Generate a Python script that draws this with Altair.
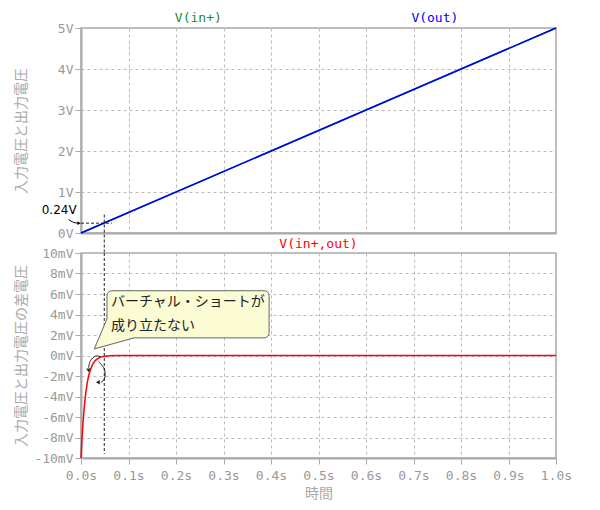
import altair as alt
import pandas as pd

# top panel: input and output ramps (V)
t_ramp = [0.0, 1.0]
v_in = [0.0, 5.0]
v_out = [0.0, 5.0]

# bottom panel: V(in+,out) in mV
t_diff = [0.0, 0.002, 0.004, 0.006, 0.008, 0.010, 0.013, 0.016, 0.020, 0.025,
          0.030, 0.035, 0.040, 0.045, 0.050, 0.060, 0.080, 0.100, 1.0]
v_diff = [-10.0, -8.2, -6.7, -5.5, -4.5, -3.7, -2.7, -2.0, -1.35, -0.82,
          -0.50, -0.30, -0.18, -0.11, -0.07, -0.03, -0.01, 0.0, 0.0]

x_ticks = [0.0, 0.1, 0.2, 0.3, 0.4, 0.5, 0.6, 0.7, 0.8, 0.9, 1.0]
top_ticks = [0, 1, 2, 3, 4, 5]
bot_ticks = [-10, -8, -6, -4, -2, 0, 2, 4, 6, 8, 10]

series_names = ["V(in+)", "V(out)", "V(in+,out)"]
series_colors = ["#1f8a1f", "#0000ff", "#ff0000"]

# annotation: 0.24V at about 0.049s
v_mark = 0.24
t_mark = 0.049
callout_lines = ["バーチャル・ショートが", "成り立たない"]

mono = "DejaVu Sans Mono"
cjk = "Noto Sans CJK JP"
W, H = 475, 205

x_top = alt.X("t:Q", scale=alt.Scale(domain=[0, 1], nice=False),
              axis=alt.Axis(values=x_ticks, labels=False, ticks=False, title=None))
y_top = alt.Y("v:Q", scale=alt.Scale(domain=[0, 5], nice=False),
              axis=alt.Axis(values=top_ticks, labelExpr="datum.value + 'V'",
                            title="入力電圧と出力電圧", titleX=-60))
x_bot = alt.X("t:Q", scale=alt.Scale(domain=[0, 1], nice=False),
              axis=alt.Axis(values=x_ticks, labelExpr="format(datum.value, '.1f') + 's'",
                            title="時間"))
y_bot = alt.Y("v:Q", scale=alt.Scale(domain=[-10, 10], nice=False),
              axis=alt.Axis(values=bot_ticks, labelExpr="datum.value + 'mV'",
                            title="入力電圧と出力電圧の差電圧", titleX=-60))

ramp_in = pd.DataFrame({"t": t_ramp, "v": v_in})
ramp_out = pd.DataFrame({"t": t_ramp, "v": v_out})

line_in = alt.Chart(ramp_in).mark_line(color=series_colors[0], strokeWidth=1.5).encode(x=x_top, y=y_top)
line_out = alt.Chart(ramp_out).mark_line(color=series_colors[1], strokeWidth=1.5).encode(x=x_top, y=y_top)

top_labels = pd.DataFrame({"t": [0.247, 0.745], "v": [5.24, 5.24],
                           "name": series_names[:2], "c": series_colors[:2]})
top_label_mark = alt.Chart(top_labels).mark_text(
    font=mono, fontSize=13, baseline="middle", clip=False
).encode(x=x_top, y=y_top, text="name:N", color=alt.Color("c:N", scale=None))

hdot = alt.Chart(pd.DataFrame({"t": [0.0], "t2": [0.065], "v": [v_mark]})).mark_rule(
    color="#222", strokeDash=[3, 2], strokeWidth=1, clip=False
).encode(x=x_top, x2="t2:Q", y=y_top)
vdot_top = alt.Chart(pd.DataFrame({"t": [t_mark], "v": [0.45], "v2": [-0.5]})).mark_rule(
    color="#222", strokeDash=[3, 2], strokeWidth=1, clip=False
).encode(x=x_top, y=y_top, y2="v2:Q")

mark_text = alt.Chart(pd.DataFrame({"t": [-0.046], "v": [0.55], "s": ["0.24V"]})).mark_text(
    font="DejaVu Sans", fontSize=12, color="#000", clip=False
).encode(x=x_top, y=y_top, text="s:N")
mark_arrow = alt.Chart(pd.DataFrame({"t": [-0.026, -0.016, -0.006], "v": [0.33, 0.26, 0.24],
                                     "o": [0, 1, 2]})).mark_line(
    color="#000", strokeWidth=1, interpolate="monotone", clip=False
).encode(x=x_top, y=y_top, order="o:Q")
mark_head = alt.Chart(pd.DataFrame({"t": [-0.004], "v": [0.24]})).mark_point(
    shape="triangle-right", size=14, filled=True, color="#000", opacity=1, clip=False
).encode(x=x_top, y=y_top)

top = alt.layer(line_in, line_out, top_label_mark, hdot, vdot_top,
                mark_text, mark_arrow, mark_head).properties(width=W, height=H)

# bottom panel
diff = pd.DataFrame({"t": t_diff, "v": v_diff})
diff_line = alt.Chart(diff).mark_line(color=series_colors[2], strokeWidth=1.5).encode(x=x_bot, y=y_bot)

red_label = alt.Chart(pd.DataFrame({"t": [0.5], "v": [10.9], "s": [series_names[2]]})).mark_text(
    font=mono, fontSize=13, color=series_colors[2], baseline="middle", clip=False
).encode(x=x_bot, y=y_bot, text="s:N")

vdot_bot = alt.Chart(pd.DataFrame({"t": [t_mark], "v": [10.0], "v2": [-9.6]})).mark_rule(
    color="#222", strokeDash=[3, 2], strokeWidth=1
).encode(x=x_bot, y=y_bot, y2="v2:Q")

box = alt.Chart(pd.DataFrame({"t": [0.0547], "t2": [0.396], "v": [6.32], "v2": [1.72]})).mark_rect(
    fill="#fbfbd4", stroke="#666", strokeWidth=1, cornerRadius=5
).encode(x=x_bot, x2="t2:Q", y=y_bot, y2="v2:Q")
tail_fill = alt.Chart(pd.DataFrame({"t": [0.028, 0.0547, 0.1116],
                                    "v": [0.64, 3.58, 3.58],
                                    "v2": [0.64, 0.985, 1.72]})).mark_area(
    color="#fbfbd4", opacity=1
).encode(x=x_bot, y=y_bot, y2="v2:Q")
tail_edge = alt.Chart(pd.DataFrame({"t": [0.0547, 0.028, 0.1116], "v": [3.58, 0.64, 1.72],
                                    "o": [0, 1, 2]})).mark_line(
    color="#666", strokeWidth=1
).encode(x=x_bot, y=y_bot, order="o:Q")
callout = alt.Chart(pd.DataFrame({"t": [0.063, 0.063], "v": [5.25, 2.9],
                                  "s": callout_lines})).mark_text(
    font=cjk, fontSize=14, align="left", baseline="middle", color="#222"
).encode(x=x_bot, y=y_bot, text="s:N")

arcs = alt.Chart(pd.DataFrame({
    "t": [0.042, 0.031, 0.020, 0.016, 0.037, 0.049, 0.050, 0.042],
    "v": [-0.15, -0.05, -0.5, -1.2, -0.6, -1.3, -2.2, -2.65],
    "g": [1, 1, 1, 1, 2, 2, 2, 2],
    "o": [0, 1, 2, 3, 0, 1, 2, 3]})).mark_line(
    color="#222", strokeWidth=1, interpolate="cardinal"
).encode(x=x_bot, y=y_bot, detail="g:N", order="o:Q")
heads = alt.Chart(pd.DataFrame({"t": [0.0158, 0.0355], "v": [-1.45, -2.6],
                                "sh": ["triangle-down", "triangle-left"]})).mark_point(
    size=20, filled=True, color="#222", opacity=1
).encode(x=x_bot, y=y_bot, shape=alt.Shape("sh:N", scale=None))

bottom = alt.layer(vdot_bot, diff_line, red_label, box, tail_fill, tail_edge, callout,
                   arcs, heads).properties(width=W, height=H)

chart = alt.vconcat(top, bottom, spacing=20, bounds="flush").properties(
    padding={"left": 5, "top": 3, "right": 5, "bottom": 5}
).configure_view(
    stroke="#aaa", strokeWidth=1.5
).configure_axis(
    gridColor="#bbb", gridDash=[3, 3], gridWidth=1,
    domainColor="#aaa", domainWidth=2, tickColor="#aaa", tickSize=6,
    labelColor="#999", labelFont=mono, labelFontSize=13,
    titleColor="#aaa", titleFont=cjk, titleFontSize=14, titleFontWeight="normal",
).configure_axisX(
    titlePadding=4, labelPadding=5, labelFlush=False
).configure_axisY(titleBaseline="middle")

chart.save("out.html", embed_options={"renderer": "svg", "actions": False})
